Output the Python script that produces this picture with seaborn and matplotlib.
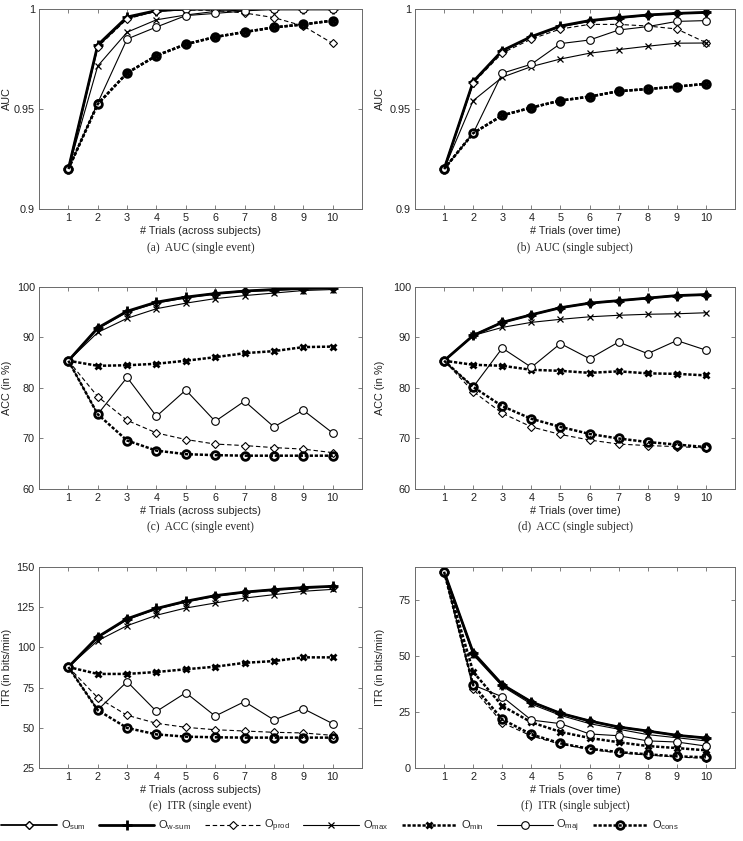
import matplotlib
matplotlib.use("Agg")
import matplotlib.pyplot as plt
import pandas as pd
import seaborn as sns

# ---------------- data ----------------
trials = [1, 2, 3, 4, 5, 6, 7, 8, 9, 10]
method_keys = ["sum", "w-sum", "prod", "max", "min", "maj", "cons"]

# (a) AUC (single event)
auc_ev_sum = [0.92, 0.9815, 0.9955, 0.999, 0.9998, 1.0, 1.0, 1.0, 1.0, 1.0]
auc_ev_wsum = [0.92, 0.982, 0.996, 0.9992, 1.0, 1.0, 1.0, 1.0, 1.0, 1.0]
auc_ev_prod = [0.92, 0.981, 0.995, 0.999, 0.9995, 0.9993, 0.998, 0.9957, 0.9915, 0.9828]
auc_ev_max = [0.92, 0.9715, 0.9884, 0.9946, 0.997, 0.9988, 0.9995, 1.0, 1.0, 1.0]
auc_ev_min = [0.92, 0.9525, 0.968, 0.9767, 0.9824, 0.986, 0.9885, 0.9908, 0.9923, 0.9942]
auc_ev_maj = [0.92, 0.953, 0.985, 0.991, 0.9967, 0.9978, 0.999, 1.0, 1.0, 1.0]
auc_ev_cons = [0.92, 0.9525, 0.968, 0.9767, 0.9824, 0.986, 0.9885, 0.9908, 0.9923, 0.9942]

# (b) AUC (single subject)
auc_su_sum = [0.92, 0.9635, 0.979, 0.986, 0.9912, 0.994, 0.9955, 0.997, 0.9978, 0.9983]
auc_su_wsum = [0.92, 0.9637, 0.9792, 0.9862, 0.9915, 0.9942, 0.9957, 0.997, 0.9978, 0.9983]
auc_su_prod = [0.92, 0.963, 0.978, 0.985, 0.990, 0.9923, 0.9923, 0.9915, 0.990, 0.9832]
auc_su_max = [0.92, 0.9542, 0.9659, 0.9712, 0.975, 0.9779, 0.9797, 0.9814, 0.9829, 0.983]
auc_su_min = [0.92, 0.9379, 0.9468, 0.9507, 0.9542, 0.9562, 0.9589, 0.960, 0.9612, 0.9626]
auc_su_maj = [0.92, 0.9379, 0.9679, 0.9724, 0.9827, 0.9845, 0.9895, 0.9912, 0.9938, 0.9942]
auc_su_cons = [0.92, 0.9379, 0.9468, 0.9507, 0.9542, 0.9562, 0.9589, 0.960, 0.9612, 0.9626]

# (c) ACC (single event)
acc_ev_sum = [85.4, 91.8, 95.1, 96.9, 97.9, 98.7, 99.2, 99.4, 99.7, 99.8]
acc_ev_wsum = [85.4, 91.9, 95.2, 97.0, 98.0, 98.7, 99.2, 99.5, 99.7, 99.8]
acc_ev_prod = [85.4, 78.3, 73.6, 71.1, 69.8, 68.9, 68.6, 68.2, 67.9, 67.2]
acc_ev_max = [85.4, 91.0, 93.8, 95.7, 96.8, 97.7, 98.3, 98.8, 99.3, 99.5]
acc_ev_min = [85.4, 84.4, 84.5, 84.8, 85.4, 86.1, 86.9, 87.3, 88.1, 88.2]
acc_ev_maj = [85.4, 74.8, 82.1, 74.4, 79.6, 73.4, 77.4, 72.3, 75.6, 71.1]
acc_ev_cons = [85.4, 74.8, 69.6, 67.6, 66.9, 66.7, 66.6, 66.6, 66.6, 66.6]

# (d) ACC (single subject)
acc_su_sum = [85.4, 90.4, 93.0, 94.5, 95.9, 96.8, 97.3, 97.8, 98.3, 98.5]
acc_su_wsum = [85.4, 90.4, 93.0, 94.5, 95.9, 96.8, 97.3, 97.8, 98.3, 98.5]
acc_su_prod = [85.4, 79.3, 75.0, 72.3, 70.8, 69.7, 68.9, 68.6, 68.4, 68.1]
acc_su_max = [85.4, 90.4, 92.0, 93.0, 93.6, 94.1, 94.4, 94.6, 94.7, 94.9]
acc_su_min = [85.4, 84.6, 84.4, 83.6, 83.4, 83.0, 83.3, 82.9, 82.8, 82.5]
acc_su_maj = [85.4, 80.2, 87.9, 84.1, 88.8, 85.8, 89.1, 86.8, 89.4, 87.5]
acc_su_cons = [85.4, 80.2, 76.4, 73.9, 72.3, 70.9, 70.0, 69.3, 68.8, 68.3]

# (e) ITR (single event)
itr_ev_sum = [87.8, 106.3, 117.5, 124.0, 128.5, 132.0, 134.3, 135.8, 137.1, 137.8]
itr_ev_wsum = [87.8, 106.5, 117.8, 124.2, 128.7, 132.2, 134.4, 135.9, 137.2, 138.0]
itr_ev_prod = [87.8, 68.7, 57.8, 52.8, 50.3, 48.8, 48.0, 47.2, 46.8, 45.3]
itr_ev_max = [87.8, 104.2, 113.5, 120.0, 124.5, 127.6, 130.7, 132.8, 134.9, 136.1]
itr_ev_min = [87.8, 83.5, 83.5, 84.7, 86.4, 88.0, 90.4, 91.5, 93.8, 93.8]
itr_ev_maj = [87.8, 61.1, 78.7, 60.2, 71.8, 57.3, 66.3, 54.9, 61.9, 52.6]
itr_ev_cons = [87.8, 61.0, 49.9, 45.9, 44.5, 44.1, 43.9, 43.9, 43.9, 43.9]

# (f) ITR (single subject)
itr_su_sum = [87.6, 51.5, 37.2, 29.5, 24.4, 21.0, 18.3, 16.5, 14.6, 13.4]
itr_su_wsum = [87.6, 51.5, 37.2, 29.5, 24.4, 21.0, 18.3, 16.5, 14.6, 13.4]
itr_su_prod = [87.6, 35.4, 20.2, 14.3, 10.6, 8.3, 6.7, 5.8, 4.9, 4.3]
itr_su_max = [87.6, 50.5, 36.5, 28.5, 23.5, 19.8, 17.3, 14.9, 13.5, 12.1]
itr_su_min = [87.6, 42.9, 27.7, 20.4, 16.1, 13.4, 11.5, 9.8, 8.9, 7.9]
itr_su_maj = [87.6, 37.0, 31.8, 21.4, 19.8, 15.2, 14.4, 12.1, 11.6, 9.8]
itr_su_cons = [87.6, 37.0, 21.7, 15.0, 11.0, 8.6, 7.1, 6.1, 5.2, 4.8]

# axis texts
xlabels = ["# Trials (across subjects)", "# Trials (over time)"]
ylabels = ["AUC", "ACC (in %)", "ITR (in bits/min)"]
captions = ["(a)  AUC (single event)", "(b)  AUC (single subject)",
            "(c)  ACC (single event)", "(d)  ACC (single subject)",
            "(e)  ITR (single event)", "(f)  ITR (single subject)"]
yticks_auc = [0.9, 0.95, 1.0]
yticklabels_auc = ["0.9", "0.95", "1"]
yticks_acc = [60, 70, 80, 90, 100]
yticks_itr_ev = [25, 50, 75, 100, 125, 150]
yticks_itr_su = [0, 25, 50, 75]
legend_subs = ["sum", "w\u2010sum", "prod", "max", "min", "maj", "cons"]

panels = [
    [auc_ev_sum, auc_ev_wsum, auc_ev_prod, auc_ev_max, auc_ev_min, auc_ev_maj, auc_ev_cons],
    [auc_su_sum, auc_su_wsum, auc_su_prod, auc_su_max, auc_su_min, auc_su_maj, auc_su_cons],
    [acc_ev_sum, acc_ev_wsum, acc_ev_prod, acc_ev_max, acc_ev_min, acc_ev_maj, acc_ev_cons],
    [acc_su_sum, acc_su_wsum, acc_su_prod, acc_su_max, acc_su_min, acc_su_maj, acc_su_cons],
    [itr_ev_sum, itr_ev_wsum, itr_ev_prod, itr_ev_max, itr_ev_min, itr_ev_maj, itr_ev_cons],
    [itr_su_sum, itr_su_wsum, itr_su_prod, itr_su_max, itr_su_min, itr_su_maj, itr_su_cons],
]

# ---------------- style ----------------
sns.set_theme(style="white")
plt.rcParams["font.family"] = ["Liberation Sans", "DejaVu Sans"]
plt.rcParams["mathtext.fontset"] = "custom"
plt.rcParams["mathtext.rm"] = "Liberation Sans"
plt.rcParams["mathtext.it"] = "Liberation Sans"

dot = (0, (1.3, 0.7))
styles = {
    "sum":   dict(linestyle="-", linewidth=1.3, marker="D", markersize=4.5,
                  markerfacecolor="white", markeredgecolor="black", markeredgewidth=1.0),
    "w-sum": dict(linestyle="-", linewidth=2.0, marker="+", markersize=6.5,
                  markeredgecolor="black", markeredgewidth=2.0),
    "prod":  dict(linestyle=(0, (4, 2.5)), linewidth=0.8, marker="D", markersize=4.5,
                  markerfacecolor="white", markeredgecolor="black", markeredgewidth=0.8),
    "max":   dict(linestyle="-", linewidth=0.8, marker="x", markersize=4.5,
                  markeredgecolor="black", markeredgewidth=0.9),
    "min":   dict(linestyle=dot, linewidth=1.8, marker="x", markersize=4.5,
                  markeredgecolor="black", markeredgewidth=2.0),
    "maj":   dict(linestyle="-", linewidth=0.8, marker="o", markersize=5.5,
                  markerfacecolor="white", markeredgecolor="black", markeredgewidth=0.8),
    "cons":  dict(linestyle=dot, linewidth=1.8, marker="o", markersize=5.5,
                  markerfacecolor="none", markeredgecolor="black", markeredgewidth=2.0),
}
legend_labels = ["O$_{\\mathrm{%s}}$" % s for s in legend_subs]

W, H = 743, 841
fig = plt.figure(figsize=(W / 100, H / 100), dpi=100)

col_x = [(39, 362), (415, 735)]
row_y = [(9, 209), (287, 489), (567, 768)]
caption_y = [248, 527, 806]
label_off = [27, 30]
label_yfrac = [0.55, 0.5, 0.5]

frame_col = "#6a6a6a"
fs = 7.8
handles = None
for idx in range(6):
    r, c = divmod(idx, 2)
    x0, x1 = col_x[c]
    y0, y1 = row_y[r]
    ax = fig.add_axes([x0 / W, 1 - y1 / H, (x1 - x0) / W, (y1 - y0) / H])
    series = panels[idx]
    for key, vals, lab in zip(method_keys, series, legend_labels):
        df = pd.DataFrame({"trial": trials, "value": vals})
        sns.lineplot(data=df, x="trial", y="value", ax=ax, color="black",
                     errorbar=None, label=lab if idx == 0 else None,
                     **styles[key])
    if idx == 0:
        handles, labels = ax.get_legend_handles_labels()
    if ax.get_legend() is not None:
        ax.get_legend().remove()

    ax.set_xlim(0, 11)
    ax.set_xticks(trials)
    if r == 0:
        ax.set_ylim(0.9, 1.0)
        ax.set_yticks(yticks_auc)
        ax.set_yticklabels(yticklabels_auc)
    elif r == 1:
        ax.set_ylim(60, 100)
        ax.set_yticks(yticks_acc)
    else:
        if c == 0:
            ax.set_ylim(25, 150)
            ax.set_yticks(yticks_itr_ev)
        else:
            ax.set_ylim(0, 89.7)
            ax.set_yticks(yticks_itr_su)

    ax.set_xlabel(xlabels[c], fontsize=fs, color="#222222", labelpad=2)
    ax.set_ylabel(ylabels[r], fontsize=fs, color="#222222")
    ax.yaxis.set_label_coords(-label_off[c] / (x1 - x0), label_yfrac[r])
    ax.tick_params(direction="in", length=3, width=0.6, colors=frame_col,
                   labelcolor="#222222", labelsize=fs, top=True, right=True,
                   bottom=True, left=True, pad=3)
    for sp in ax.spines.values():
        sp.set_visible(True)
        sp.set_color(frame_col)
        sp.set_linewidth(0.7)
    ax.grid(False)
    ax.set_facecolor("white")

    fig.text(((x0 + x1) / 2) / W, 1 - caption_y[r] / H, captions[idx],
             ha="center", va="center", fontsize=8.3,
             family=["Liberation Serif", "DejaVu Serif"])

fig.legend(handles, legend_labels, loc="center", ncol=7,
           bbox_to_anchor=(340 / W, 1 - 826 / H), frameon=False,
           handlelength=5.0, handletextpad=0.35, columnspacing=1.2,
           fontsize=8, borderaxespad=0)

fig.savefig("out.png", dpi=100, facecolor="white")
